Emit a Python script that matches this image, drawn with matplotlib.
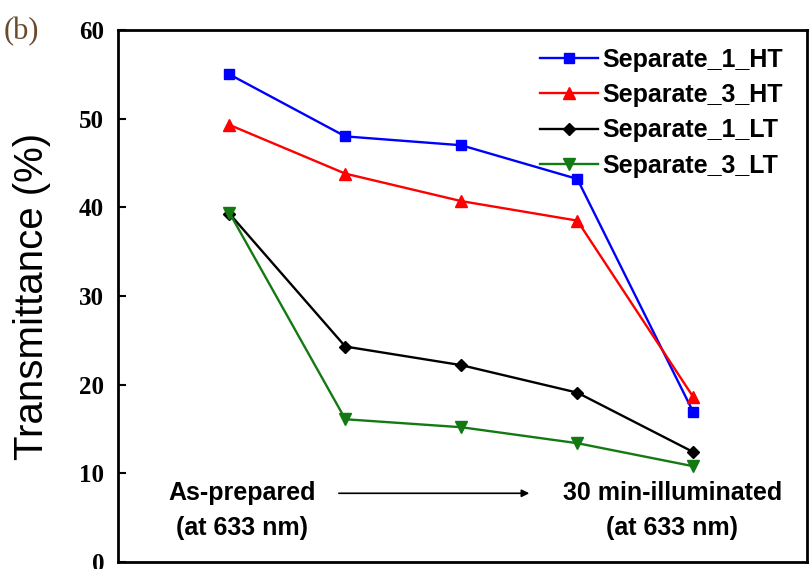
import numpy as np
import matplotlib.pyplot as plt

# transmittance at 633 nm, as-prepared -> 30 min illuminated
steps = [1, 2, 3, 4, 5]
sep1_ht = [55.0, 48.0, 47.0, 43.2, 16.9]
sep3_ht = [49.3, 43.8, 40.7, 38.5, 18.6]
sep1_lt = [39.3, 24.3, 22.2, 19.1, 12.4]
sep3_lt = [39.4, 16.1, 15.2, 13.4, 10.8]

fig = plt.figure(figsize=(8.12, 5.69), dpi=100)
ax = fig.add_axes([0.1453, 0.0123, 0.8485, 0.9350])

ax.plot(steps, sep1_ht, color='#0000ff', lw=1.7, marker='s', ms=7.5, label='Separate_1_HT')
ax.plot(steps, sep3_ht, color='#ff0000', lw=1.7, marker='^', ms=8.5, label='Separate_3_HT')
ax.plot(steps, sep1_lt, color='black', lw=1.7, marker='D', ms=6, label='Separate_1_LT')
ax.plot(steps, sep3_lt, color='#137a13', lw=1.7, marker='v', ms=8.5, label='Separate_3_LT')

ax.set_xlim(0.04, 5.98)
ax.set_ylim(0, 60)
ax.set_xticks([])
ax.set_yticks(np.arange(0, 61, 10))
ax.tick_params(axis='y', direction='in', length=6, width=1.5, pad=10)
for lab in ax.get_yticklabels():
    lab.set_fontfamily('Liberation Serif')
    lab.set_fontweight('bold')
    lab.set_fontsize(18)
for sp in ax.spines.values():
    sp.set_linewidth(2)

ax.set_ylabel('Transmittance (%)', fontsize=29, family='Liberation Sans')
ax.yaxis.set_label_coords(-0.097, 0.5)

fig.text(0.005, 0.945, '(b)', fontsize=22, family='Liberation Serif', color='#6b4a2a', va='center')

leg = ax.legend(loc='upper right', bbox_to_anchor=(0.98, 0.985), frameon=False,
                handlelength=2.3, handletextpad=0.2, labelspacing=0.45, borderaxespad=0,
                prop={'family': 'Liberation Sans', 'weight': 'bold', 'size': 18})

lbl = dict(ha='center', va='center', fontsize=18, family='Liberation Sans', fontweight='bold')
ax.text(1.11, 7.75, 'As-prepared', **lbl)
ax.text(1.11, 3.8, '(at 633 nm)', **lbl)
ax.text(4.82, 7.75, '30 min-illuminated', **lbl)
ax.text(4.82, 3.8, '(at 633 nm)', **lbl)
ax.annotate('', xy=(3.61, 7.75), xytext=(1.92, 7.75),
            arrowprops=dict(arrowstyle='-|>', color='black', lw=1.2, mutation_scale=11))

fig.savefig('out.png', dpi=100)
